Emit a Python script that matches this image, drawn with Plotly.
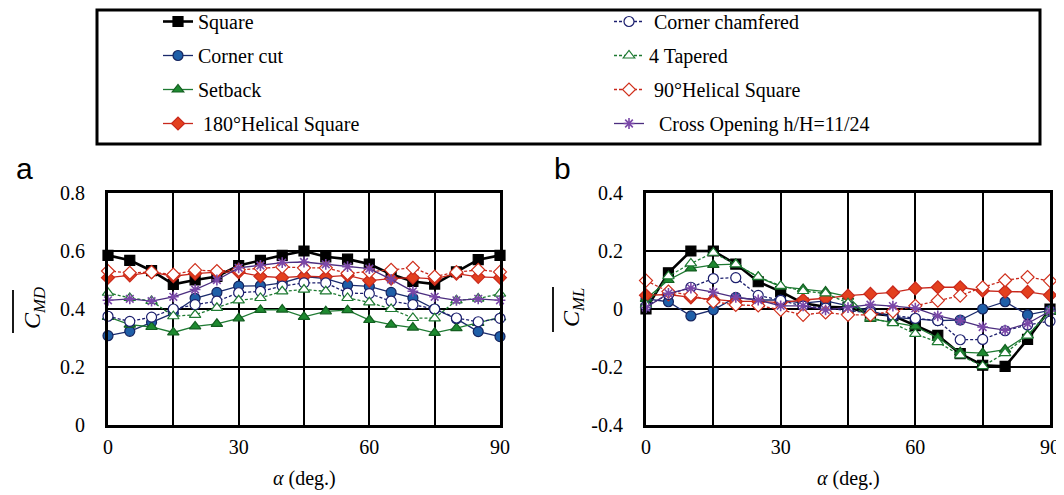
import plotly.graph_objects as go

OFF = 8  # page body margin of the rendered HTML
W, H = 1064 - OFF, 495 - OFF

angles = [0, 5, 10, 15, 20, 25, 30, 35, 40, 45, 50, 55, 60, 65, 70, 75, 80, 85, 90]

# Panel a: mean drag moment coefficient
square_a = [0.585, 0.568, 0.532, 0.485, 0.500, 0.512, 0.550, 0.568, 0.585, 0.600, 0.580, 0.572, 0.555, 0.520, 0.495, 0.486, 0.528, 0.570, 0.585]
cut_a = [0.308, 0.323, 0.354, 0.386, 0.437, 0.457, 0.479, 0.480, 0.490, 0.512, 0.505, 0.482, 0.478, 0.457, 0.438, 0.400, 0.366, 0.322, 0.305]
setback_a = [0.373, 0.346, 0.338, 0.319, 0.340, 0.349, 0.368, 0.397, 0.398, 0.373, 0.392, 0.396, 0.362, 0.346, 0.336, 0.318, 0.334, 0.352, 0.371]
hel180_a = [0.508, 0.516, 0.527, 0.513, 0.522, 0.527, 0.527, 0.513, 0.508, 0.513, 0.511, 0.516, 0.498, 0.505, 0.508, 0.504, 0.522, 0.511, 0.508]
chamf_a = [0.375, 0.357, 0.372, 0.400, 0.415, 0.427, 0.456, 0.461, 0.479, 0.490, 0.490, 0.455, 0.453, 0.427, 0.415, 0.400, 0.369, 0.356, 0.368]
taper_a = [0.456, 0.438, 0.428, 0.375, 0.380, 0.404, 0.430, 0.438, 0.461, 0.467, 0.461, 0.438, 0.423, 0.400, 0.369, 0.368, 0.430, 0.436, 0.453]
hel90_a = [0.531, 0.525, 0.527, 0.519, 0.534, 0.531, 0.535, 0.540, 0.545, 0.542, 0.542, 0.523, 0.528, 0.535, 0.542, 0.512, 0.527, 0.535, 0.528]
cross_a = [0.430, 0.435, 0.427, 0.442, 0.467, 0.500, 0.542, 0.550, 0.560, 0.562, 0.554, 0.546, 0.539, 0.502, 0.461, 0.442, 0.430, 0.435, 0.430]

# Panel b: mean lift moment coefficient
square_b = [0.000, 0.125, 0.200, 0.200, 0.155, 0.094, 0.060, 0.020, 0.008, 0.005, -0.015, -0.023, -0.057, -0.091, -0.154, -0.194, -0.198, -0.105, 0.000]
cut_b = [0.035, 0.025, -0.024, -0.003, 0.040, 0.031, 0.031, 0.020, 0.028, 0.012, -0.006, -0.029, -0.034, -0.040, -0.038, 0.000, 0.025, -0.020, -0.005]
setback_b = [0.035, 0.100, 0.140, 0.152, 0.155, 0.110, 0.077, 0.069, 0.060, 0.043, -0.034, -0.046, -0.060, -0.100, -0.149, -0.152, -0.140, -0.090, -0.010]
hel180_b = [0.047, 0.050, 0.040, 0.032, 0.026, 0.026, 0.022, 0.031, 0.037, 0.046, 0.052, 0.057, 0.071, 0.075, 0.075, 0.063, 0.060, 0.059, 0.048]
chamf_b = [0.010, 0.050, 0.075, 0.105, 0.108, 0.047, 0.030, 0.010, 0.003, -0.005, -0.012, -0.022, -0.032, -0.040, -0.106, -0.105, -0.075, -0.055, -0.042]
taper_b = [0.014, 0.113, 0.157, 0.194, 0.154, 0.111, 0.080, 0.062, 0.054, 0.020, -0.030, -0.049, -0.086, -0.114, -0.160, -0.197, -0.152, -0.092, -0.006]
hel90_b = [0.098, 0.060, 0.048, 0.025, 0.014, 0.012, -0.003, -0.020, -0.012, -0.020, -0.020, -0.008, 0.011, 0.029, 0.046, 0.075, 0.099, 0.110, 0.097]
cross_b = [0.005, 0.054, 0.072, 0.058, 0.040, 0.031, 0.011, 0.011, -0.003, 0.005, 0.015, 0.010, 0.003, -0.024, -0.040, -0.062, -0.073, -0.050, -0.007]

x_ticks = [0, 15, 30, 45, 60, 75, 90]
x_ticktext = ["0", "", "30", "", "60", "", "90"]
ya_ticks = [0, 0.2, 0.4, 0.6, 0.8]
ya_ticktext = ["0", "0.2", "0.4", "0.6", "0.8"]
yb_ticks = [-0.4, -0.2, 0, 0.2, 0.4]
yb_ticktext = ["-0.4", "-0.2", "0", "0.2", "0.4"]

SERIF = "Liberation Serif, Times New Roman, serif"


def px2x(p):
    return (p - OFF) / W


def py2y(p):
    return 1 - (p - OFF) / H


series = [
    # name, a data, b data, legend, line color, dash, width, symbol, fill, outline, size
    ("Square", square_a, square_b, "legend", "#000000", "solid", 2.6, "square", "#000000", "#000000", 10),
    ("Corner cut", cut_a, cut_b, "legend", "#1a2a6c", "solid", 1.3, "circle", "#1f5fa8", "#15245e", 10),
    ("Setback", setback_a, setback_b, "legend", "#1e7a32", "solid", 1.3, "triangle-up", "#1e8a30", "#135e20", 10),
    (" 180°Helical Square", hel180_a, hel180_b, "legend", "#c8281c", "solid", 1.3, "diamond", "#e3401e", "#c8281c", 10),
    (" Corner chamfered", chamf_a, chamf_b, "legend2", "#1c1f6e", "3px,2px", 1.3, "circle", "#ffffff", "#1c1f6e", 10),
    ("4 Tapered", taper_a, taper_b, "legend2", "#1e7a32", "3px,2px", 1.3, "triangle-up", "#ffffff", "#1e7a32", 10),
    (" 90°Helical Square", hel90_a, hel90_b, "legend2", "#c8281c", "3px,2px", 1.3, "diamond", "#ffffff", "#d0301c", 10),
    ("  Cross Opening h/H=11/24", cross_a, cross_b, "legend2", "#4b2d7f", "solid", 1.3, "asterisk-open", "#7a48a8", "#7a48a8", 9),
]

fig = go.Figure()
for name, ya, yb, leg, lc, dash, lw, sym, fill, outline, size in series:
    mk = dict(symbol=sym, size=size, color=fill, line=dict(color=outline, width=1.6 if "asterisk" in sym else 1.2))
    for xa, yaxis, ydata, show in (("x", "y", ya, True), ("x2", "y2", yb, False)):
        fig.add_trace(go.Scatter(
            x=angles, y=ydata, name=name, mode="lines+markers",
            line=dict(color=lc, width=lw, dash=dash), marker=mk,
            xaxis=xa, yaxis=yaxis, showlegend=show, legend=leg,
            legendgroup=name, cliponaxis=False,
        ))

axis_common = dict(
    showgrid=True, gridcolor="#000000", gridwidth=1.5,
    showline=True, linecolor="#000000", linewidth=3, mirror=True,
    zeroline=False, ticks="", automargin=False,
    tickfont=dict(family=SERIF, size=20, color="#000000"),
)

ydom = [py2y(425), py2y(193)]
fig.update_layout(
    width=W, height=H,
    margin=dict(l=0, r=0, t=0, b=0, pad=0, autoexpand=False),
    paper_bgcolor="white", plot_bgcolor="white",
    xaxis=dict(domain=[px2x(108), px2x(500)], range=[0, 90], tickvals=x_ticks, ticktext=x_ticktext,
               anchor="y", ticklabelstandoff=2, **axis_common),
    yaxis=dict(domain=ydom, range=[0, 0.8], tickvals=ya_ticks, ticktext=ya_ticktext,
               anchor="x", ticklabelstandoff=16, **axis_common),
    xaxis2=dict(domain=[px2x(646), px2x(1050)], range=[0, 90], tickvals=x_ticks, ticktext=x_ticktext,
                anchor="y2", ticklabelstandoff=2, **axis_common),
    yaxis2=dict(domain=ydom, range=[-0.4, 0.4], tickvals=yb_ticks, ticktext=yb_ticktext,
                anchor="x2", ticklabelstandoff=16, **axis_common),
    legend=dict(x=px2x(158), y=py2y(2), xanchor="left", yanchor="top",
                bgcolor="rgba(0,0,0,0)", borderwidth=0, tracegroupgap=5,
                font=dict(family=SERIF, size=20, color="#000000")),
    legend2=dict(x=px2x(609), y=py2y(2), xanchor="left", yanchor="top",
                 bgcolor="rgba(0,0,0,0)", borderwidth=0, tracegroupgap=5,
                 font=dict(family=SERIF, size=20, color="#000000")),
    shapes=[
        dict(type="rect", xref="paper", yref="paper", x0=px2x(97), x1=px2x(1040), y0=py2y(10), y1=py2y(144),
             line=dict(color="#000000", width=3), fillcolor="rgba(0,0,0,0)"),
        dict(type="line", xref="paper", yref="paper", x0=px2x(13), x1=px2x(13), y0=py2y(290), y1=py2y(333),
             line=dict(color="#000000", width=1.8)),
        dict(type="line", xref="paper", yref="paper", x0=px2x(553), x1=px2x(553), y0=py2y(287), y1=py2y(332),
             line=dict(color="#000000", width=1.8)),
    ],
    annotations=[
        dict(text="a", x=px2x(24), y=py2y(168), xref="paper", yref="paper", showarrow=False,
             xanchor="center", yanchor="middle",
             font=dict(family="Liberation Sans, Arial, sans-serif", size=30, color="#000000")),
        dict(text="b", x=px2x(562), y=py2y(168), xref="paper", yref="paper", showarrow=False,
             xanchor="center", yanchor="middle",
             font=dict(family="Liberation Sans, Arial, sans-serif", size=30, color="#000000")),
        dict(text="<i>α</i> (deg.)", x=px2x(304), y=py2y(478), xref="paper", yref="paper", showarrow=False,
             xanchor="center", yanchor="middle", font=dict(family=SERIF, size=20, color="#000000")),
        dict(text="<i>α</i> (deg.)", x=px2x(848), y=py2y(478), xref="paper", yref="paper", showarrow=False,
             xanchor="center", yanchor="middle", font=dict(family=SERIF, size=20, color="#000000")),
        dict(text="<i>C</i><sub><i>MD</i></sub>", x=px2x(34), y=py2y(308), xref="paper", yref="paper",
             xanchor="center", yanchor="middle",
             showarrow=False, textangle=-90, font=dict(family=SERIF, size=24, color="#000000")),
        dict(text="<i>C</i><sub><i>ML</i></sub>", x=px2x(573), y=py2y(308), xref="paper", yref="paper",
             xanchor="center", yanchor="middle",
             showarrow=False, textangle=-90, font=dict(family=SERIF, size=24, color="#000000")),
    ],
)

fig.write_html("out.html")
